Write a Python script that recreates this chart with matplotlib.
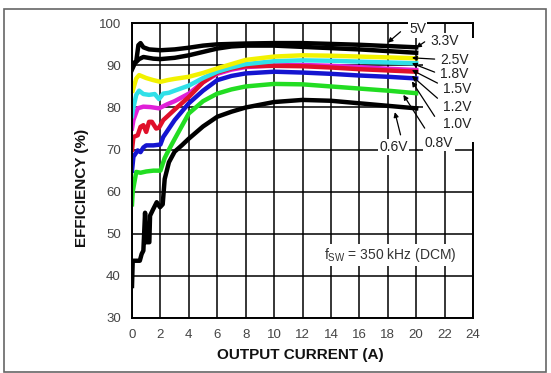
import matplotlib
matplotlib.use("Agg")
import matplotlib.pyplot as plt
from matplotlib.patches import Rectangle

plt.rcParams['font.family'] = ['Liberation Sans', 'DejaVu Sans']
plt.rcParams['mathtext.fontset'] = 'custom'
plt.rcParams['mathtext.rm'] = 'Liberation Sans'
plt.rcParams['mathtext.it'] = 'Liberation Sans'

# ---- data ----
x_ticks = [0, 2, 4, 6, 8, 10, 12, 14, 16, 18, 20, 22, 24]
y_ticks = [30, 40, 50, 60, 70, 80, 90, 100]

labels = ["5V", "3.3V", "2.5V", "1.8V", "1.5V", "1.2V", "1.0V", "0.8V", "0.6V"]
colors = ["#000000", "#000000", "#f2f200", "#30e0e8", "#e020d8", "#e0102a", "#1414d0", "#22dd22", "#000000"]

x_5v = [0, 0.1, 0.3, 0.45, 0.6, 0.8, 1.2, 2, 3, 4, 5, 6, 8, 10, 12, 14, 16, 18, 20]
y_5v = [89.5, 90.5, 91.0, 94.8, 95.3, 94.3, 93.8, 93.6, 93.8, 94.2, 94.7, 95.0, 95.2, 95.3, 95.3, 95.1, 94.9, 94.6, 94.3]

x_3v3 = [0, 0.2, 0.5, 0.8, 1.5, 2, 3, 4, 5, 6, 7, 8, 10, 12, 14, 16, 18, 20]
y_3v3 = [89.0, 90.5, 91.5, 92.0, 91.6, 91.5, 91.8, 92.4, 93.2, 94.0, 94.5, 94.7, 94.7, 94.4, 94.1, 93.8, 93.4, 93.0]

x_2v5 = [0.05, 0.3, 0.5, 1, 1.5, 2, 2.5, 3, 4, 5, 6, 7, 8, 10, 12, 14, 16, 18, 20]
y_2v5 = [84.0, 86.9, 87.7, 87.0, 86.5, 86.1, 86.5, 86.8, 87.3, 88.2, 89.3, 90.3, 91.3, 92.1, 92.4, 92.3, 92.1, 91.9, 91.7]

x_1v8 = [0, 0.1, 0.3, 0.5, 0.8, 1.2, 1.6, 1.9, 2.2, 2.6, 3, 4, 5, 6, 7, 8, 10, 12, 14, 16, 18, 20]
y_1v8 = [78.0, 80.0, 83.0, 84.0, 83.2, 83.0, 83.2, 82.0, 83.3, 83.5, 84.0, 85.2, 87.0, 88.5, 89.5, 90.3, 91.0, 91.2, 91.1, 90.9, 90.7, 90.5]

x_1v5 = [0, 0.1, 0.4, 0.8, 1.3, 1.9, 2.5, 3, 4, 5, 6, 7, 8, 10, 12, 14, 16, 18, 20]
y_1v5 = [75.0, 77.0, 79.8, 80.2, 80.1, 79.8, 80.8, 81.5, 83.3, 86.0, 88.0, 89.0, 89.6, 90.0, 90.1, 89.9, 89.6, 89.2, 88.9]

x_1v2 = [0, 0.1, 0.4, 0.6, 0.8, 1.0, 1.2, 1.4, 1.7, 1.9, 2.2, 3, 4, 5, 6, 7, 8, 10, 12, 14, 16, 18, 20]
y_1v2 = [70.0, 73.0, 73.4, 75.4, 75.8, 74.2, 76.6, 76.6, 75.0, 75.2, 77.0, 79.5, 82.5, 86.0, 88.3, 89.3, 89.8, 89.9, 89.8, 89.5, 89.1, 88.8, 88.5]

x_1v0 = [0, 0.1, 0.4, 0.6, 0.8, 1.0, 1.5, 2.0, 2.2, 2.5, 3, 4, 5, 6, 7, 8, 10, 12, 14, 16, 18, 20]
y_1v0 = [65.0, 68.3, 69.8, 69.4, 70.5, 71.0, 71.0, 71.2, 73.0, 74.5, 77.0, 81.0, 84.0, 86.5, 87.5, 88.1, 88.5, 88.3, 88.0, 87.6, 87.3, 86.9]

x_0v8 = [0, 0.05, 0.3, 0.6, 1, 1.5, 2, 2.3, 2.6, 3, 4, 5, 6, 7, 8, 10, 12, 14, 16, 18, 20]
y_0v8 = [57.0, 60.0, 64.7, 64.5, 64.8, 65.0, 65.0, 68.0, 70.0, 72.5, 78.6, 81.5, 83.3, 84.3, 85.0, 85.6, 85.5, 85.0, 84.5, 84.0, 83.4]

x_0v6 = [0, 0.05, 0.2, 0.55, 0.68, 0.8, 0.92, 1.0, 1.22, 1.27, 1.5, 1.74, 1.97, 2.16, 2.3, 2.6, 3, 3.5, 4, 5, 6, 7, 8, 10, 12, 14, 16, 18, 20]
y_0v6 = [37.6, 43.6, 43.6, 43.6, 45.2, 46.0, 55.0, 48.0, 48.0, 54.3, 55.9, 57.5, 56.3, 57.0, 63.0, 67.0, 69.5, 71.0, 72.6, 75.5, 77.8, 79.0, 80.0, 81.3, 81.8, 81.6, 81.0, 80.4, 79.8]

series_x = [x_5v, x_3v3, x_2v5, x_1v8, x_1v5, x_1v2, x_1v0, x_0v8, x_0v6]
series_y = [y_5v, y_3v3, y_2v5, y_1v8, y_1v5, y_1v2, y_1v0, y_0v8, y_0v6]

# label text position, arrow tail, arrow tip (data coords)
label_pos = [(20.1, 98.6), (22.0, 95.8), (22.7, 91.3), (22.7, 88.0), (22.9, 84.4),
             (22.9, 80.1), (22.9, 76.1), (21.6, 71.6), (18.4, 70.6)]
arrow_tail = [(18.9, 98.0), (20.6, 95.6), (21.3, 91.5), (21.3, 88.4), (21.5, 85.8),
              (21.5, 82.2), (21.3, 77.9), (20.6, 75.1), (18.9, 73.5)]
arrow_tip = [(18.0, 95.4), (20.0, 94.2), (19.7, 91.8), (19.7, 90.5), (19.7, 88.9),
             (19.7, 87.5), (19.7, 86.2), (19.1, 83.0), (18.5, 78.9)]

annotation = r"f$_{\mathrm{SW}}$ = 350 kHz (DCM)"

# ---- figure ----
fig = plt.figure(figsize=(5.51, 3.73), dpi=100)
ax = fig.add_axes([132/551, 1-318/373, (473-132)/551, (318-23.3)/373])
ax.set_xlim(0, 24)
ax.set_ylim(30, 100)
ax.set_xticks(x_ticks)
ax.set_yticks(y_ticks)
ax.tick_params(length=0, labelsize=9.5, labelcolor='#444444', pad=8)
ax.grid(True, color='black', lw=1.1)
ax.set_axisbelow(True)
for s in ax.spines.values():
    s.set_linewidth(1.4)
    s.set_color('black')

order = [8, 7, 6, 4, 5, 3, 2, 1, 0]
for i in order:
    ax.plot(series_x[i], series_y[i], color=colors[i], lw=3.2, solid_joinstyle='round', zorder=2)

# white cover for label area
ax.add_patch(Rectangle((20.5, 71.8), 4.2, 24.7, facecolor='white', edgecolor='none',
                       zorder=3, clip_on=False))

for i in range(len(labels)):
    ax.annotate('', xy=arrow_tip[i], xytext=arrow_tail[i],
                arrowprops=dict(arrowstyle='-|>', color='black', lw=0.9,
                                mutation_scale=7, shrinkA=0, shrinkB=0),
                zorder=4, annotation_clip=False)
    ax.text(label_pos[i][0], label_pos[i][1], labels[i], fontsize=10, color='#222222',
            ha='center', va='center', zorder=5,
            bbox=dict(facecolor='white', edgecolor='none', pad=1.0))

ax.text(18.2, 45, annotation, fontsize=10, color='#333333', ha='center', va='center',
        zorder=5, bbox=dict(facecolor='white', edgecolor='none', pad=1.5))

fig.text(82/551, 1-188/373, "EFFICIENCY (%)", rotation=90, fontsize=11, fontweight='bold',
         ha='center', va='center', color='#111111')
fig.text(300/551, 1-355/373, "OUTPUT CURRENT (A)", fontsize=11, fontweight='bold',
         ha='center', va='center', color='#111111')

fig.patches.append(Rectangle((4/551, 1-371.5/373), (546-4)/551, (371.5-9)/373,
                             transform=fig.transFigure, fill=False, edgecolor='#666666', lw=1.2))

fig.savefig("out.png", dpi=100)
